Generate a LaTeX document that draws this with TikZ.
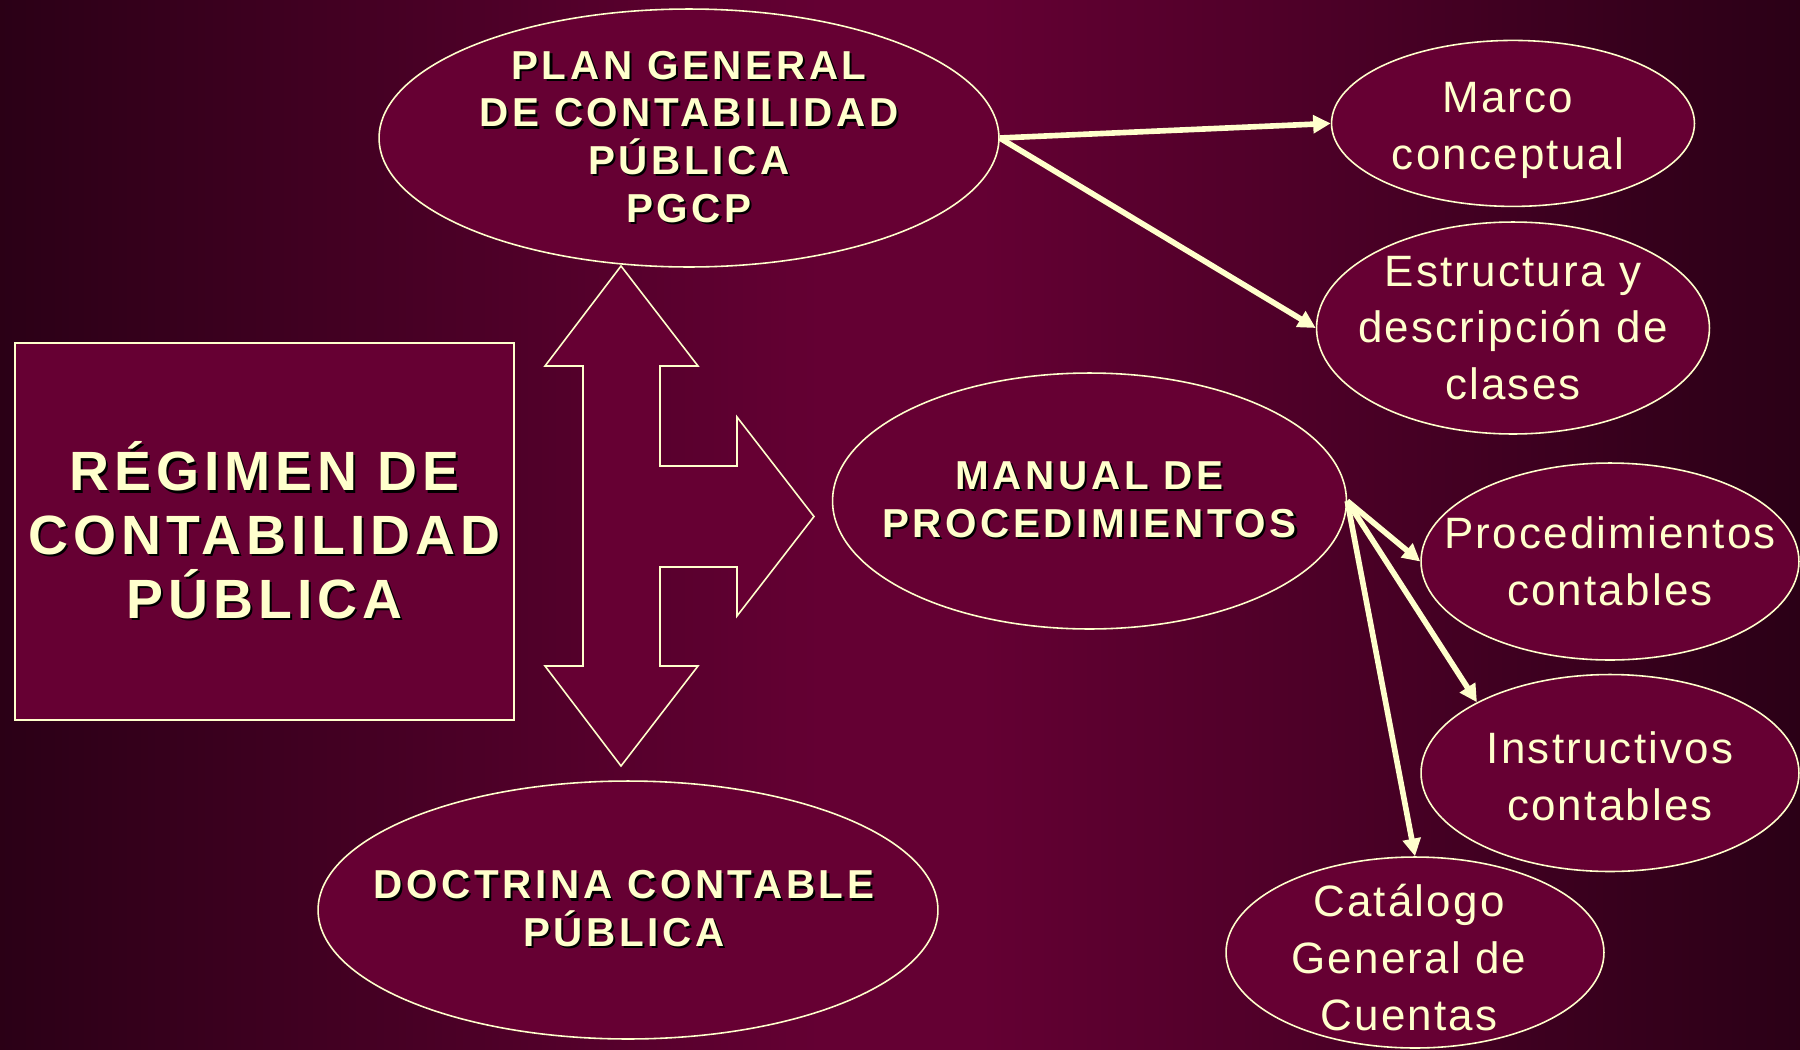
\documentclass[tikz,border=0pt]{standalone}
\usepackage{fontspec}
\setmainfont{Liberation Sans}
\newfontfamily\slidefont{Liberation Sans}[LetterSpace=5]
\newfontfamily\headfont{Liberation Sans}[LetterSpace=9]
\usepackage{tikz}
\usetikzlibrary{shapes.geometric,arrows.meta}

\definecolor{wine}{HTML}{660033}
\definecolor{cream}{HTML}{FFFFCC}
\definecolor{bgdark}{HTML}{2A0016}
\definecolor{bgmid}{HTML}{640033}

% text with a dark drop shadow
\newcommand{\shd}[1]{\rlap{\kern1.2pt\raisebox{-1.2pt}{\color{black}#1}}#1}

\begin{document}
\begin{tikzpicture}[x=0.02cm,y=-0.02cm,
  bub/.style={ellipse, draw=cream, fill=wine, line width=0.9pt, inner sep=0pt},
  bigtxt/.style={text=cream, align=center, font=\headfont\bfseries\fontsize{31.5pt}{36.3pt}\selectfont},
  midtxt/.style={text=cream, align=center, font=\headfont\bfseries\fontsize{23pt}{27.2pt}\selectfont},
  smalltxt/.style={text=cream, align=center, font=\slidefont\fontsize{25pt}{32.3pt}\selectfont},
  link/.style={draw=cream, line width=3.2pt, -{Triangle[length=10pt,width=10pt]}}]
\useasboundingbox (0,0) rectangle (1800,1049);
% background
\shade[left color=bgdark, right color=bgmid] (-10,-10) rectangle (821,1060);
\fill[bgmid] (818,-10) rectangle (982,1060);
\shade[left color=bgmid, right color=bgdark] (979,-10) rectangle (1810,1060);
%
\node[draw=cream, fill=wine, line width=0.9pt, minimum width=9.98cm, minimum height=7.54cm, bigtxt] (regimen) at (264.5,531.5)
  {\shd{RÉGIMEN DE}\\\shd{CONTABILIDAD}\\\shd{PÚBLICA}};
%
\draw[cream, fill=wine, line width=0.9pt] (621,266) -- (698,366) -- (660,366) -- (660,466) -- (737,466) -- (737,417)
  -- (814,516.5) -- (737,616) -- (737,567) -- (660,567) -- (660,666) -- (698,666) -- (621,766) -- (545,666)
  -- (583,666) -- (583,366) -- (545,366) -- cycle;
%
\node[bub, minimum width=12.4cm, minimum height=5.16cm,
  label={[midtxt]center:{\shd{PLAN GENERAL}\\\shd{DE CONTABILIDAD}\\\shd{PÚBLICA}\\\shd{PGCP}}}] (pgcp) at (689,138) {};
\node[bub, minimum width=12.4cm, minimum height=5.16cm,
  label={[midtxt, xshift=-0.08cm]center:{\shd{DOCTRINA CONTABLE}\\\shd{PÚBLICA}}}] (doctrina) at (628,910) {};
\node[bub, minimum width=10.28cm, minimum height=5.12cm,
  label={[midtxt]center:{\shd{MANUAL DE}\\\shd{PROCEDIMIENTOS}}}] (manual) at (1089.5,501) {};
%
\node[bub, minimum width=7.26cm, minimum height=3.32cm,
  label={[smalltxt, xshift=-0.1cm, yshift=-0.14cm]center:{Marco\\conceptual}}] (marco) at (1513,123.4) {};
\node[bub, minimum width=7.86cm, minimum height=4.24cm,
  label={[smalltxt]center:{Estructura y\\descripción de\\clases}}] (estruc) at (1513,328) {};
\node[bub, minimum width=7.56cm, minimum height=3.94cm,
  label={[smalltxt]center:{Procedimientos\\contables}}] (proced) at (1610,561.5) {};
\node[bub, minimum width=7.56cm, minimum height=3.94cm,
  label={[smalltxt, yshift=-0.06cm]center:{Instructivos\\contables}}] (instruc) at (1610,773) {};
\node[bub, minimum width=7.56cm, minimum height=3.82cm,
  label={[smalltxt, xshift=-0.12cm, yshift=-0.1cm]center:{Catálogo\\General de\\Cuentas}}] (catalogo) at (1415,952.5) {};
%
\draw[link] (pgcp.east) -- (marco.west);
\draw[link] (pgcp.east) -- (estruc.west);
\draw[link] (manual.east) -- (proced.west);
\draw[link] (manual.east) -- (instruc.152);
\draw[link] (manual.east) -- (catalogo.north);
\end{tikzpicture}
\end{document}
